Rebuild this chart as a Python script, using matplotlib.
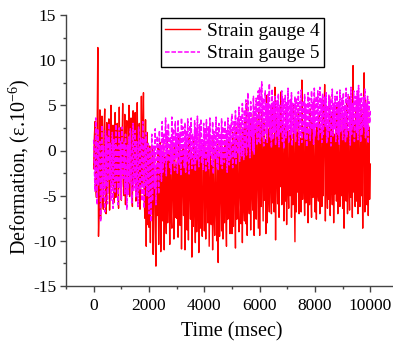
import numpy as np
import matplotlib
matplotlib.use("Agg")
import matplotlib.pyplot as plt
from matplotlib.ticker import MultipleLocator

plt.rcParams['font.family'] = ['Liberation Serif', 'DejaVu Serif']
plt.rcParams['mathtext.fontset'] = 'custom'
plt.rcParams['mathtext.rm'] = 'Liberation Serif'
plt.rcParams['mathtext.it'] = 'Liberation Serif:italic'
plt.rcParams['axes.unicode_minus'] = False

# time axis, 25 ms steps from 0 to 10000 ms
time_ms = list(range(0, 10001, 25))

# strain gauge 4 (red), 20 samples per 500 ms
gauge4 = [
    -2.0, 1.5, 3.2, -4.0, -5.2, 2.0, 11.4, -9.5, -6.0, 4.5, -7.6, 1.0, 3.8, -5.4, -6.5, 2.2, 4.6, -4.2, -7.0, 3.1,
    -4.8, 1.4, 3.5, -6.6, -2.9, 5.0, -3.9, 0.8, 2.8, -5.8, -4.4, 4.2, -5.2, 1.9, 3.0, -3.2, -6.4, 4.8, -4.1, 2.5,
    -5.5, 0.6, 5.2, -3.6, -5.0, 4.0, -6.0, 1.2, 3.3, -4.4, -2.8, 5.0, -5.1, 2.0, 3.6, -4.0, -6.2, 4.4, -3.5, 1.6,
    4.2, -5.6, -3.0, 5.3, -4.7, 0.9, 3.0, -6.5, -4.2, 6.0, -3.8, 2.2, 6.4, -5.0, -7.5, 3.4, -10.6, 2.0, -8.2, 0.4,
    -8.5, 0.5, -10.2, -1.0, -6.5, 0.2, -11.5, -2.4, -0.5, -9.0, -12.8, -1.5, -7.2, 0.6, -10.4, -3.0, 0.9, -11.2, -6.8, -0.4,
    -7.8, 0.8, -11.0, -0.6, -4.5, -9.2, 1.2, -8.0, -2.0, -0.2, -10.4, 0.6, -6.8, -8.6, 1.0, -3.4, -9.8, 0.3, -7.4, -1.6,
    -7.5, -1.2, -9.6, 1.5, -5.2, -8.3, 0.0, -10.9, -2.6, 0.4, -7.2, -0.8, -11.0, 0.9, -6.0, -8.8, -0.5, -9.9, 1.4, -4.0,
    -7.6, 0.2, -11.8, -0.9, -8.4, 1.0, -5.6, -10.2, 0.3, -9.0, -2.2, -0.4, -11.3, 1.6, -8.6, 0.1, -6.4, -9.5, -1.0, 0.8,
    -8.9, 0.4, -9.8, -3.0, -0.2, -8.0, 1.1, -10.6, -5.0, 0.5, -8.2, -1.4, -11.0, 1.3, -7.0, -9.4, 0.2, -6.2, -10.0, 0.7,
    -12.4, -0.7, -9.5, 0.8, -4.2, -8.9, 0.4, -9.8, -0.2, -8.0, 1.1, -6.4, -10.6, 0.9, -7.6, -2.2, 1.4, -9.2, -5.6, 0.6,
    -9.2, 2.0, -8.4, 0.9, -4.0, -10.8, 2.6, -7.6, 1.2, -6.0, -9.0, 3.0, -3.8, -8.1, 1.6, -10.2, 2.4, -5.6, -7.8, 3.3,
    -8.1, 5.2, -9.4, 2.2, -4.8, -7.0, 3.4, -8.8, 1.8, -3.6, -6.6, 4.0, -9.4, 2.8, -5.0, -7.6, 3.6, -2.4, -8.6, 4.4,
    -9.4, 2.8, -6.2, 4.5, -2.0, -7.8, 3.0, -5.5, 1.2, -9.2, 6.1, -8.0, 2.4, -4.4, -6.8, 3.8, -3.0, -7.0, 5.0, -5.8,
    1.6, -6.8, 7.0, -9.9, 3.6, -2.6, -5.9, 2.0, -7.4, 4.2, -4.0, 6.5, -6.0, 3.2, -1.8, -7.8, 2.5, -5.6, 4.8, -8.2,
    3.1, -3.2, -6.4, 2.2, -5.0, 4.0, -7.4, 1.0, -6.0, 5.0, -2.8, -10.1, 3.4, -6.8, 2.0, -4.6, 4.6, -7.0, 1.4, -5.2,
    -6.8, 7.8, -5.4, 2.6, -3.0, -7.2, 4.4, -5.8, 3.0, -2.0, -8.0, 2.1, -6.0, 4.6, -4.2, -7.4, 3.2, -5.2, 5.4, -3.4,
    -6.8, 2.0, -7.6, 2.8, -4.6, -5.6, 4.0, -7.0, 2.4, -2.6, -6.2, 5.6, -5.0, 3.4, 7.3, -7.8, 4.8, -3.8, -6.4, 2.6,
    -5.4, 6.0, -7.2, 3.8, -2.2, -6.0, 4.4, -8.0, 1.8, -4.8, 3.2, -5.6, 5.2, -7.0, 3.6, -3.2, -6.2, 4.2, -5.0, 2.2,
    -6.4, 4.0, -8.6, 3.0, -4.0, -5.6, 5.2, -7.0, 2.4, -3.4, -6.6, 6.0, -5.2, 3.8, -7.4, 9.4, -4.6, 2.8, -6.2, 4.8,
    -5.6, 5.2, -7.0, 3.6, -3.0, -6.2, 4.6, -5.0, 4.0, -8.6, 3.0, 8.6, -6.8, 5.6, -2.8, -6.0, 4.4, -7.2, 2.6, -5.4,
    -1.5,
]

# strain gauge 5 (magenta, dashed)
gauge5 = [
    1.2, -2.0, -4.5, 3.6, -1.0, -6.0, 2.4, -3.8, 0.2, 1.0, -7.9, -2.6, 2.8, -5.2, 0.5, -1.8, -6.8, 2.2, -4.0, 1.6,
    -5.9, -0.4, 3.0, -3.2, 0.8, -5.5, -2.4, 2.0, -6.4, 1.2, -1.6, -4.6, 2.9, -3.5, 0.4, -6.0, -1.2, 2.5, -4.2, 1.0,
    -5.4, 2.6, -0.8, -3.1, 0.9, -4.8, 1.8, -2.2, -6.5, 0.6, -5.0, 1.5, -3.6, 2.4, -1.4, -5.8, 0.3, 3.0, -4.4, -0.6,
    2.2, -5.2, 1.0, -3.0, -6.2, 2.6, -1.8, -4.4, 1.4, 0.4, -5.6, 3.2, -2.6, -6.4, 1.2, -4.0, 2.0, -5.0, -2.4, 0.8,
    -7.0, 0.2, -3.6, -7.9, 1.8, -5.6, -2.0, 0.5, -4.2, 2.4, -6.0, -3.0, 1.6, -1.0, -4.8, 2.2, -2.4, 0.6, -3.4, 3.2,
    -2.4, 1.8, -1.5, 0.4, 3.6, -2.8, 2.2, -1.2, 3.0, 0.6, -2.0, 1.5, -2.6, 3.7, -1.4, 2.4, -0.2, -2.2, 3.2, -0.8,
    1.9, -2.5, 3.4, 0.2, -1.6, 2.0, -2.8, 3.6, -1.0, 2.6, 0.8, -1.9, 3.1, -2.4, 2.2, -1.3, 3.5, -0.4, -2.6, 2.8,
    -0.9, 3.6, -2.0, 1.8, 0.4, -1.5, 3.3, -2.3, 2.5, -1.1, 3.8, 0.6, -1.8, 2.9, -0.6, 3.5, -1.4, 1.2, -2.1, 3.0,
    -0.8, 2.4, -2.4, 3.4, 0.9, -1.2, 2.7, -2.0, 3.6, -0.5, 1.6, -1.7, 3.2, -2.6, 2.1, 0.2, -1.0, 3.7, -1.8, 2.5,
    -2.2, 3.0, -0.6, 1.9, -1.5, 3.5, -2.0, 2.6, 0.4, -1.3, 3.3, -0.9, 2.2, -2.4, 3.6, 0.1, -1.6, 2.8, -1.0, 3.2,
    4.0, -1.9, 2.2, 3.2, -0.8, 4.4, -1.6, 1.4, 3.6, -0.4, 4.8, -1.2, 2.6, 3.9, -0.6, 5.2, 0.8, -1.0, 4.5, 0.2,
    5.6, -0.5, 3.0, 6.4, 0.4, 4.2, -0.8, 5.4, 1.6, 3.6, 0.0, 6.0, -0.4, 4.8, 2.0, 5.8, 0.6, 3.4, 6.6, 1.0,
    7.0, 0.8, 4.6, 7.6, 1.4, 5.8, 0.5, 3.2, 6.6, 1.8, 5.2, 0.9, 6.2, 2.6, 7.4, 1.5, 5.0, 0.3, 6.8, 1.2,
    5.4, 2.0, 6.0, 0.6, 4.0, 5.5, 1.6, 6.3, 0.4, 5.0, 2.8, 1.9, 6.6, 1.0, 5.7, 0.2, 4.4, 6.1, 1.4, 5.3,
    2.2, 6.9, 0.8, 3.8, 5.6, 1.7, 6.4, 0.5, 5.2, 2.6, 1.9, 6.0, 1.0, 5.8, 2.4, 4.2, 6.5, 0.6, 5.4, 1.5,
    6.7, 0.9, 3.6, 5.5, 2.0, 6.2, 1.2, 5.1, 0.4, 4.4, 6.4, 1.8, 5.8, 1.1, 3.2, 6.6, 2.3, 5.3, 0.7, 6.9,
    1.6, 4.6, 6.0, 2.5, 6.6, 1.2, 3.8, 7.0, 2.0, 5.7, 0.9, 6.3, 1.8, 4.2, 5.9, 2.6, 6.4, 0.8, 5.0, 1.4,
    6.2, 2.2, 5.6, 0.5, 4.0, 6.8, 1.6, 5.2, 2.4, 6.0, 1.0, 3.6, 6.5, 1.8, 5.4, 0.7, 6.7, 2.0, 4.6, 5.8,
    1.2, 6.4, 2.4, 5.0, 0.9, 6.9, 1.5, 4.4, 6.2, 2.2, 5.6, 0.6, 7.0, 1.8, 5.2, 2.6, 6.6, 1.0, 4.8, 6.0,
    2.0, 6.6, 1.2, 7.2, 2.4, 5.7, 0.9, 6.3, 1.8, 4.4, 5.9, 2.6, 6.8, 1.4, 5.2, 2.2, 6.0, 0.8, 5.4, 3.0,
    4.5,
]

W, H = 393, 345
fig = plt.figure(figsize=(W / 100, H / 100), dpi=100)
ax = fig.add_axes([66 / W, (H - 286) / H, 332 / W, 271 / H])

ax.plot(time_ms, gauge4, color='#ff0000', lw=1.0, label='Strain gauge 4')
ax.plot(time_ms, gauge5, color='#ff00ff', lw=1.1, ls=(0, (3, 1.2)), label='Strain gauge 5')

ax.set_xlim(-1000, 11000)
ax.set_ylim(-15, 15)
ax.xaxis.set_major_locator(MultipleLocator(2000))
ax.xaxis.set_minor_locator(MultipleLocator(1000))
ax.yaxis.set_major_locator(MultipleLocator(5))
ax.yaxis.set_minor_locator(MultipleLocator(2.5))

for s in ['top', 'right']:
    ax.spines[s].set_visible(False)
for s in ['left', 'bottom']:
    ax.spines[s].set_color('#444444')
    ax.spines[s].set_linewidth(1.0)
ax.tick_params(which='major', direction='out', length=4, width=1, color='#444444', labelsize=12.5)
ax.tick_params(axis='x', which='major', pad=5)
ax.tick_params(axis='y', which='major', pad=3)
ax.tick_params(which='minor', direction='out', length=2.5, width=1, color='#444444')

ax.set_xlabel('Time (msec)', fontsize=14.5)
ax.set_ylabel('Deformation, (ε.10$^{-6}$)', fontsize=14.5)
ax.xaxis.set_label_coords(0.5, -0.133)
ax.yaxis.set_label_coords(-0.102, 0.44)

leg = ax.legend(loc='upper right', bbox_to_anchor=(324 / W, 1 - 18 / H), bbox_transform=fig.transFigure,
                borderaxespad=0, fancybox=False, edgecolor='black', framealpha=1,
                fontsize=14, handlelength=1.8, handletextpad=0.35, labelspacing=0.25,
                borderpad=0.22)
leg.get_frame().set_linewidth(1.0)

fig.savefig('out.png', dpi=100)
